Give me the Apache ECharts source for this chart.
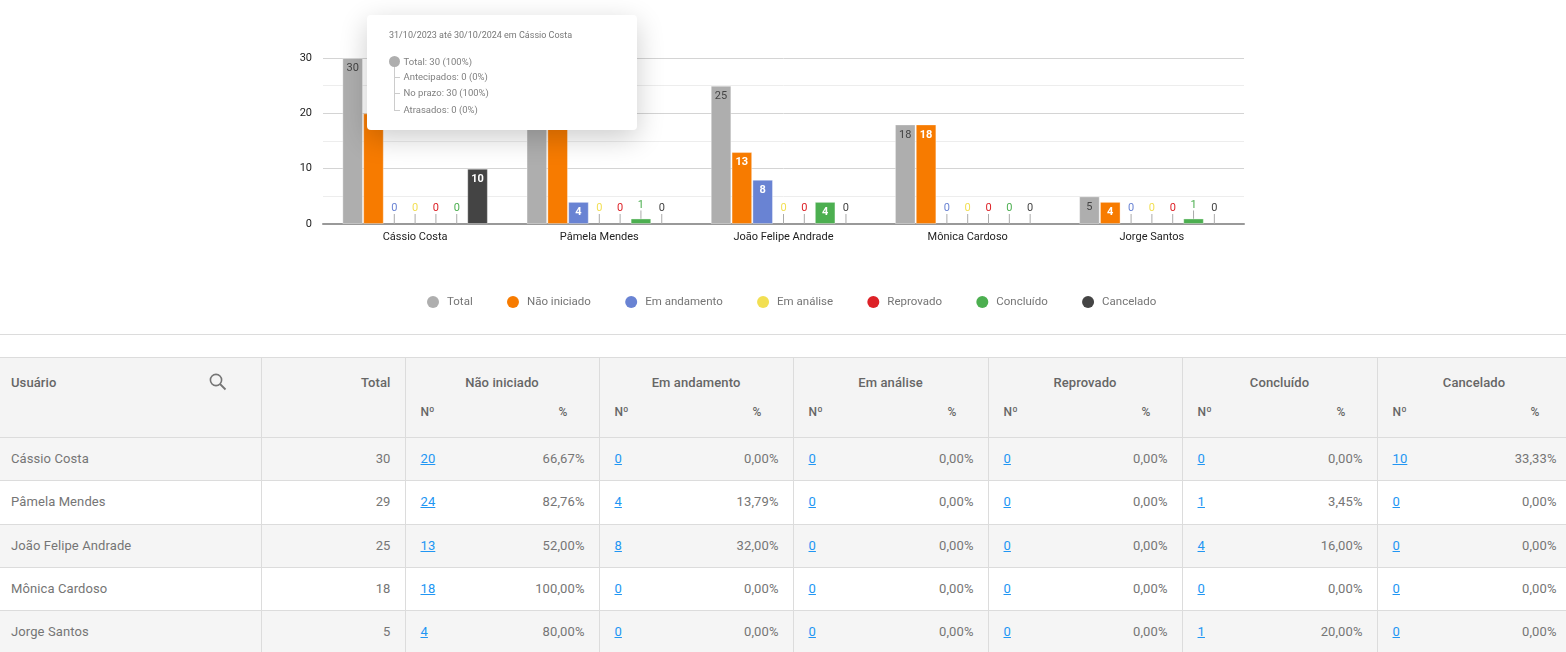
<!DOCTYPE html>
<html>
<head>
<meta charset="utf-8">
<title>Usuários</title>
<script src="https://cdn.jsdelivr.net/npm/echarts@6/dist/echarts.min.js"></script>
<style>
    html, body { margin: 0; padding: 0; background: #fff; overflow: hidden; height: 652px; }
    body { font-family: Roboto, sans-serif; }
    #chart { position: absolute; left: 0; top: 0; width: 1566px; height: 334px; }
    #divider { position: absolute; left: 0; top: 334px; width: 1566px; height: 1px; background: #dcdcdc; }
    #grid { position: absolute; left: 0; top: 357px; width: 1566px; border-collapse: collapse; table-layout: fixed; font-size: 13px; color: #757575; letter-spacing: .1px; }
    #grid td, #grid th { border: 1px solid #dcdcdc; padding: 0 15px; box-sizing: border-box; height: 43.25px; white-space: nowrap; }
    #grid td { padding-bottom: 1px; }
    #grid tr.odd td { background: #f5f5f5; }
    #grid thead th { background: #f4f4f4; color: #666; font-weight: 500; height: 40px; vertical-align: top; padding-top: 17px; }
    #grid thead tr.sub th { font-size: 12px; padding-top: 7px; border-top: 0; }
    #grid thead tr.top th { border-bottom: 0; }
    #grid .first { padding-left: 11px; text-align: left; position: relative; border-left: 0; }
    #grid .right { text-align: right; padding-right: 14px; }
    #grid .left { text-align: left; }
    #grid .center { text-align: center; }
    #grid td.num { border-right: 0; padding-left: 15px; }
    #grid td.pct { border-left: 0; padding-right: 14px; }
    #grid th.num { border-right: 0; border-left: 1px solid #dcdcdc; padding-left: 15px; }
    #grid th.pct { border-left: 0; padding-right: 31px; }
    #grid a { color: #2196f3; }
    #grid svg { position: absolute; left: 208px; top: 14px; }
    .tip { position: relative; width: 270px; height: 115px; font-family: Roboto, sans-serif; font-size: 9.5px; color: #808080; white-space: nowrap; }
    .tip div { position: absolute; line-height: 12px; }
</style>
</head>
<body>
<div id="chart"></div>
<div id="divider"></div>
<table id="grid"></table>
<script>
var categories = ['Cássio Costa', 'Pâmela Mendes', 'João Felipe Andrade', 'Mônica Cardoso', 'Jorge Santos'];
var seriesNames = ['Total', 'Não iniciado', 'Em andamento', 'Em análise', 'Reprovado', 'Concluído', 'Cancelado'];
var seriesColors = ['#aeaeae', '#f77b00', '#6983d3', '#f2df52', '#dd2127', '#4caf50', '#444444'];

var totalValues = [30, 29, 25, 18, 5];
var naoIniciado = [20, 24, 13, 18, 4];
var emAndamento = [0, 4, 8, 0, 0];
var emAnalise = [0, 0, 0, 0, 0];
var reprovado = [0, 0, 0, 0, 0];
var concluido = [0, 1, 4, 0, 1];
var cancelado = [10, 0, 0, 0, 0];
var allValues = [totalValues, naoIniciado, emAndamento, emAnalise, reprovado, concluido, cancelado];

var tipTitle = '31/10/2023 até 30/10/2024 em Cássio Costa';
var tipLabels = ['Total: 30 (100%)', 'Antecipados: 0 (0%)', 'No prazo: 30 (100%)', 'Atrasados: 0 (0%)'];

function buildSeries() {
    return seriesNames.map(function (name, s) {
        return {
            name: name,
            type: 'bar',
            barGap: '1%',
            barCategoryGap: '21%',
            itemStyle: { color: seriesColors[s] },
            // inside the bar when it fits, above it with a leader line when it does not
            data: allValues[s].map(function (v) {
                return {
                    value: v,
                    itemStyle: v == 0 ? { borderWidth: 0 } : { borderColor: 'rgba(255,255,255,0.35)', borderWidth: 1 },
                    label: v > 1
                        ? { position: 'insideTop', distance: 5, color: s == 0 ? '#444' : '#fff', fontWeight: s == 0 ? 'normal' : 'bold' }
                        : { position: 'top', distance: 5, color: s == 0 ? '#444' : seriesColors[s], fontWeight: 'normal' }
                };
            }),
            label: { show: true, fontFamily: 'Roboto', fontSize: 11 },
            labelLine: { show: true, lineStyle: { color: '#aaa', width: 1 } },
            labelLayout: function (params) {
                var v = allValues[s][params.dataIndex];
                if (v > 1) return {};
                return { dy: v == 1 ? -3 : -5 };
            }
        };
    });
}

function tipHtml() {
    var rowY = [41, 56, 72, 89];
    var html = '<div class="tip">';
    html += '<div style="left:22px;top:14px;color:#777;font-size:9px">' + tipTitle + '</div>';
    html += '<div style="left:27px;top:46px;width:1px;height:49px;background:#ccc"></div>';
    html += '<div style="left:22px;top:41px;width:11px;height:11px;border-radius:50%;background:#aeaeae"></div>';
    tipLabels.forEach(function (t, i) {
        if (i > 0) {
            html += '<div style="left:27px;top:' + (rowY[i] + 6) + 'px;width:6px;height:1px;background:#ccc"></div>';
        }
        html += '<div style="left:36.5px;top:' + rowY[i] + 'px">' + t + '</div>';
    });
    return html + '</div>';
}

var chart = echarts.init(document.getElementById('chart'));
chart.setOption({
    animation: false,
    color: seriesColors,
    grid: { left: 323, right: 322, top: 58, height: 166 },
    tooltip: {
        trigger: 'item',
        triggerOn: 'none',
        alwaysShowContent: true,
        transitionDuration: 0,
        position: [367, 15],
        padding: 0,
        borderWidth: 0,
        backgroundColor: '#fff',
        extraCssText: 'border-radius:4px;box-shadow:0 8px 28px rgba(0,0,0,0.2);',
        formatter: tipHtml
    },
    legend: {
        left: 422,
        top: 291,
        icon: 'circle',
        itemWidth: 12,
        itemHeight: 12,
        itemGap: 34.3,
        data: seriesNames,
        textStyle: { fontFamily: 'Roboto', fontSize: 11.5, color: '#757575', padding: [0, 0, 0, 3] }
    },
    xAxis: {
        type: 'category',
        data: categories,
        axisTick: { show: false },
        axisLine: { lineStyle: { color: '#999', width: 2 } },
        axisLabel: { fontFamily: 'Roboto', fontSize: 11, color: '#222', margin: 8 }
    },
    yAxis: {
        type: 'value',
        min: 0,
        max: 30,
        interval: 10,
        axisLine: { show: false },
        axisTick: { show: false },
        axisLabel: { fontFamily: 'Roboto', fontSize: 11, color: '#222', margin: 11, padding: [4, 0, 0, 0] },
        splitLine: { lineStyle: { color: '#d4d4d4', width: 1 } },
        minorTick: { show: false, splitNumber: 2 },
        minorSplitLine: { show: true, lineStyle: { color: '#ededed', width: 1 } }
    },
    series: buildSeries()
});
chart.dispatchAction({ type: 'showTip', seriesIndex: 0, dataIndex: 0 });

// tabela
function pct(v, total) {
    return (v / total * 100).toFixed(2).replace('.', ',') + '%';
}

function buildTable() {
    var colWidths = [261, 144];
    for (var i = 0; i < 6; i++) {
        colWidths.push(65);
        colWidths.push(i == 2 || i == 4 ? 130 : 129);
    }
    var html = '<colgroup>' + colWidths.map(function (w) { return '<col style="width:' + w + 'px">'; }).join('') + '</colgroup>';
    var icon = '<svg width="20" height="20" viewBox="0 0 20 20"><circle cx="8" cy="8" r="5.6" fill="none" stroke="#757575" stroke-width="1.6"/><line x1="12" y1="12" x2="17.5" y2="17.5" stroke="#757575" stroke-width="1.8"/></svg>';
    html += '<thead><tr class="top"><th class="first" rowspan="2">Usuário' + icon + '</th><th class="right" rowspan="2">Total</th>';
    seriesNames.slice(1).forEach(function (n) { html += '<th class="center" colspan="2">' + n + '</th>'; });
    html += '</tr><tr class="sub">';
    seriesNames.slice(1).forEach(function () { html += '<th class="num left">Nº</th><th class="pct right">%</th>'; });
    html += '</tr></thead><tbody>';
    categories.forEach(function (c, r) {
        html += '<tr class="' + (r % 2 == 0 ? 'odd' : 'even') + '"><td class="first">' + c + '</td><td class="right">' + totalValues[r] + '</td>';
        allValues.slice(1).forEach(function (vals) {
            html += '<td class="num left"><a href="#">' + vals[r] + '</a></td><td class="pct right">' + pct(vals[r], totalValues[r]) + '</td>';
        });
        html += '</tr>';
    });
    document.getElementById('grid').innerHTML = html + '</tbody>';
}
buildTable();
</script>
</body>
</html>
